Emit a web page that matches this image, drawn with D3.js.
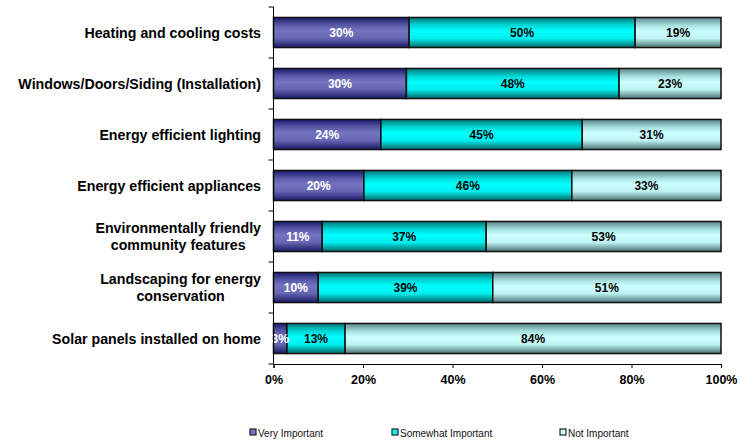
<!DOCTYPE html>
<html>
<head>
<meta charset="utf-8">
<script src="https://cdn.jsdelivr.net/npm/d3@7"></script>
<style>
  body { margin: 0; background: #fff; }
  text { font-family: "Liberation Sans", Arial, sans-serif; }
</style>
</head>
<body>
<script>
// data (displayed percentages, bars are normalised to 100%)
var categories = [
  ["Heating and cooling costs"],
  ["Windows/Doors/Siding (Installation)"],
  ["Energy efficient lighting"],
  ["Energy efficient appliances"],
  ["Environmentally friendly", "community features"],
  ["Landscaping for energy", "conservation"],
  ["Solar panels installed on home"]
];
var veryImportant     = [30, 30, 24, 20, 11, 10, 3];
var somewhatImportant = [50, 48, 45, 46, 37, 39, 13];
var notImportant      = [19, 23, 31, 33, 53, 51, 84];
var seriesNames = ["Very Important", "Somewhat Important", "Not Important"];
var xTicks = [0, 0.2, 0.4, 0.6, 0.8, 1];

var width = 754, height = 441;
var plotLeft = 273.5, plotRight = 721, plotTop = 7, plotBottom = 364;

var svg = d3.select("body").append("svg")
    .attr("width", width).attr("height", height);

// gradients, dark on top/bottom and light through the middle
var grads = [
  ["#1a1a6e", "#5858a6", "#7474c0", "#6464b0", "#181864"],
  ["#007676", "#00d4d4", "#00ffff", "#00eeee", "#006666"],
  ["#5a8484", "#a4dcdc", "#ccffff", "#bef2f2", "#4a7070"]
];
var defs = svg.append("defs");
grads.forEach(function(g, i) {
  var lg = defs.append("linearGradient").attr("id", "g" + i)
      .attr("x1", 0).attr("y1", 0).attr("x2", 0).attr("y2", 1);
  var offs = [0, 0.25, 0.45, 0.7, 1];
  g.forEach(function(c, j) {
    lg.append("stop").attr("offset", offs[j]).attr("stop-color", c);
  });
});

var rows = categories.map(function(c, i) {
  var vals = [veryImportant[i], somewhatImportant[i], notImportant[i]];
  var total = d3.sum(vals);
  var acc = 0;
  var segs = vals.map(function(v, k) {
    var s = { k: k, v: v, x0: acc / total, x1: (acc + v) / total };
    acc += v;
    return s;
  });
  return { i: i, label: c, segs: segs };
});

var x = d3.scaleLinear().domain([0, 1]).range([plotLeft, plotRight]);
var y = d3.scaleBand().domain(d3.range(categories.length))
    .range([plotTop, plotBottom]).paddingInner(0.41).paddingOuter(0.205);

var rowG = svg.selectAll(".row").data(rows).enter().append("g")
    .attr("transform", function(d) { return "translate(0," + y(d.i) + ")"; });

rowG.selectAll("rect").data(function(d) { return d.segs; }).enter()
  .append("rect")
    .attr("x", function(d) { return x(d.x0); })
    .attr("width", function(d) { return x(d.x1) - x(d.x0); })
    .attr("y", 0)
    .attr("height", y.bandwidth())
    .attr("fill", function(d) { return "url(#g" + d.k + ")"; })
    .attr("stroke", "#111")
    .attr("stroke-width", 1.5);

rowG.selectAll(".lbl").data(function(d) { return d.segs; }).enter()
  .append("text")
    .attr("x", function(d) { return x((d.x0 + d.x1) / 2); })
    .attr("y", y.bandwidth() / 2 + 4.5)
    .attr("text-anchor", "middle")
    .style("font-size", "12px").style("font-weight", "bold")
    .attr("fill", function(d) { return d.k === 0 ? "#fff" : "#000"; })
    .text(function(d) { return d.v + "%"; });

// axes
var bandStep = y.step();
var yAxisG = svg.append("g");
yAxisG.append("line")
    .attr("x1", plotLeft).attr("x2", plotLeft).attr("y1", plotTop).attr("y2", plotBottom)
    .attr("stroke", "#000");
yAxisG.selectAll(".yt").data(d3.range(categories.length + 1)).enter()
  .append("line")
    .attr("x1", plotLeft - 5).attr("x2", plotLeft)
    .attr("y1", function(d) { return plotTop + d * bandStep; })
    .attr("y2", function(d) { return plotTop + d * bandStep; })
    .attr("stroke", "#000");

var xAxis = d3.axisBottom(x).tickValues(xTicks).tickSize(4)
    .tickFormat(d3.format(".0%"));
var xAxisG = svg.append("g").attr("transform", "translate(0," + plotBottom + ")")
    .call(xAxis);
xAxisG.select(".domain").attr("stroke", "#000");
xAxisG.selectAll(".tick line").attr("stroke", "#000");
xAxisG.selectAll(".tick text")
    .attr("dy", "0")
    .attr("y", 19.5)
    .style("font-size", "12.5px").style("font-weight", "bold")
    .style("font-family", "'Liberation Sans', Arial, sans-serif")
    .attr("fill", "#000");

// category labels, multi-line ones centred within their block
var labelRight = 261;
rows.forEach(function(r) {
  var g = svg.append("g");
  var cy = y(r.i) + y.bandwidth() / 2;
  var n = r.label.length;
  var lh = 17;
  var texts = r.label.map(function(t, j) {
    return g.append("text")
      .attr("y", cy + (j - (n - 1) / 2) * lh + 5)
      .style("font-size", "14.2px").style("font-weight", "bold")
      .attr("fill", "#000")
      .text(t);
  });
  var maxW = d3.max(texts, function(t) { return t.node().getComputedTextLength(); });
  texts.forEach(function(t) {
    t.attr("x", labelRight - maxW / 2).attr("text-anchor", "middle");
  });
});

// legend
var legendX = [250, 392, 560];
var legend = svg.selectAll(".leg").data(seriesNames).enter().append("g")
    .attr("transform", function(d, i) { return "translate(" + legendX[i] + ",429)"; });
legend.append("rect")
    .attr("width", 6).attr("height", 6)
    .attr("fill", function(d, i) { return grads[i][2]; })
    .attr("stroke", "#222").attr("stroke-width", 1.2);
legend.append("text")
    .attr("x", 8).attr("y", 7.5)
    .style("font-size", "10px")
    .attr("fill", "#111")
    .text(function(d) { return d; });
</script>
</body>
</html>
